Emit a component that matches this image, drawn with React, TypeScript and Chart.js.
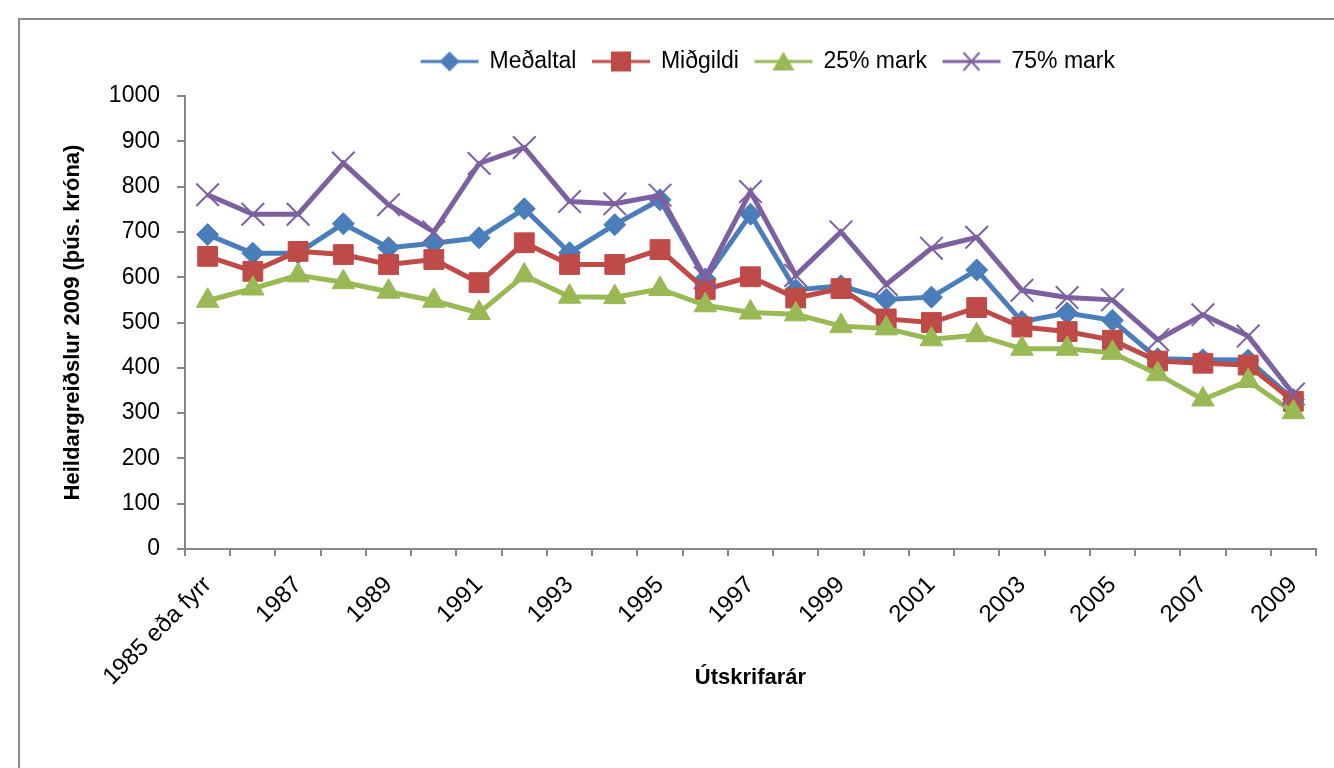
import React, { useEffect, useRef } from 'react';
import { Chart, registerables } from 'chart.js';

Chart.register(...registerables);

const categories = [
  '1985 eða fyrr', '1986', '1987', '1988', '1989', '1990', '1991', '1992', '1993',
  '1994', '1995', '1996', '1997', '1998', '1999', '2000', '2001', '2002', '2003',
  '2004', '2005', '2006', '2007', '2008', '2009',
];

const seriesNames = ['Meðaltal', 'Miðgildi', '25% mark', '75% mark'];

const medaltal = [694, 653, 653, 718, 665, 675, 687, 751, 654, 716, 771, 596, 739, 572, 581, 551, 556, 616, 502, 521, 505, 420, 418, 417, 330];
const midgildi = [646, 613, 657, 650, 628, 639, 588, 676, 628, 628, 661, 573, 601, 554, 575, 508, 500, 533, 490, 480, 461, 415, 410, 406, 326];
const mark25 = [548, 575, 604, 589, 568, 548, 521, 604, 557, 556, 574, 538, 522, 518, 492, 487, 463, 472, 442, 442, 433, 386, 330, 371, 302];
const mark75 = [782, 739, 739, 852, 760, 700, 851, 886, 767, 762, 781, 599, 789, 604, 700, 584, 664, 688, 571, 555, 550, 462, 517, 470, 342];

const yMin = 0;
const yMax = 1000;
const yStep = 100;

const yAxisTitle = 'Heildargreiðslur 2009 (þús. króna)';
const xAxisTitle = 'Útskrifarár';

const BLUE = '#4A7EBB';
const RED = '#BE4B48';
const GREEN = '#98B954';
const PURPLE = '#7D60A0';
const AXIS = '#868686';

function legendIcon(color: string, kind: string): HTMLCanvasElement {
  const c = document.createElement('canvas');
  c.width = 60;
  c.height = 24;
  const ctx = c.getContext('2d')!;
  ctx.strokeStyle = color;
  ctx.fillStyle = color;
  ctx.lineWidth = 3;
  ctx.beginPath();
  ctx.moveTo(1, 12);
  ctx.lineTo(59, 12);
  ctx.stroke();
  const cx = 30;
  const cy = 12;
  ctx.beginPath();
  if (kind === 'diamond') {
    ctx.moveTo(cx, cy - 10);
    ctx.lineTo(cx + 10, cy);
    ctx.lineTo(cx, cy + 10);
    ctx.lineTo(cx - 10, cy);
    ctx.closePath();
    ctx.fill();
  } else if (kind === 'square') {
    ctx.rect(cx - 10, cy - 10, 20, 20);
    ctx.fill();
  } else if (kind === 'triangle') {
    ctx.moveTo(cx, cy - 10);
    ctx.lineTo(cx + 11, cy + 9);
    ctx.lineTo(cx - 11, cy + 9);
    ctx.closePath();
    ctx.fill();
  } else {
    ctx.lineWidth = 2;
    ctx.moveTo(cx - 8, cy - 9);
    ctx.lineTo(cx + 8, cy + 9);
    ctx.moveTo(cx + 8, cy - 9);
    ctx.lineTo(cx - 8, cy + 9);
    ctx.stroke();
  }
  return c;
}

// Places the legend row like the original (centred a little right of the canvas, near the top)
const legendPlacement = {
  id: 'legendPlacement',
  afterLayout(chart: any) {
    const l = chart.legend;
    if (!l) return;
    const dx = 748 - (l.left + l.right) / 2;
    l.left += dx;
    l.right += dx;
    const dy = 14 - l.top;
    l.top += dy;
    l.bottom += dy;
  },
};

export default function App() {
  const ref = useRef<HTMLCanvasElement>(null);

  useEffect(() => {
    if (!ref.current) return;
    Chart.defaults.font.family = '"Liberation Sans", Arial, sans-serif';
    const icons = [
      legendIcon(BLUE, 'diamond'),
      legendIcon(RED, 'square'),
      legendIcon(GREEN, 'triangle'),
      legendIcon(PURPLE, 'cross'),
    ];
    const chart = new Chart(ref.current, {
      type: 'line',
      data: {
        labels: categories,
        datasets: [
          {
            label: seriesNames[0], data: medaltal, borderColor: BLUE, backgroundColor: BLUE,
            pointBackgroundColor: BLUE, pointBorderColor: BLUE, borderWidth: 5,
            pointStyle: 'rectRot', pointRadius: 11, pointBorderWidth: 1, order: 4,
          },
          {
            label: seriesNames[1], data: midgildi, borderColor: RED, backgroundColor: RED,
            pointBackgroundColor: RED, pointBorderColor: RED, borderWidth: 5,
            pointStyle: 'rect', pointRadius: 14, pointBorderWidth: 1, order: 3,
          },
          {
            label: seriesNames[2], data: mark25, borderColor: GREEN, backgroundColor: GREEN,
            pointBackgroundColor: GREEN, pointBorderColor: GREEN, borderWidth: 5,
            pointStyle: 'triangle', pointRadius: 13, pointBorderWidth: 1, order: 2,
          },
          {
            label: seriesNames[3], data: mark75, borderColor: PURPLE, backgroundColor: PURPLE,
            pointBackgroundColor: PURPLE, pointBorderColor: PURPLE, borderWidth: 5,
            pointStyle: 'crossRot', pointRadius: 16, pointBorderWidth: 2, order: 1,
          },
        ],
      },
      options: {
        responsive: false,
        animation: false,
        devicePixelRatio: 1,
        layout: { padding: { left: 25, right: 17, top: 2, bottom: 60 } },
        plugins: {
          tooltip: { enabled: false },
          legend: {
            display: true,
            position: 'top',
            labels: {
              usePointStyle: true,
              pointStyleWidth: 57,
              padding: 16,
              color: '#000',
              font: { size: 23 },
              generateLabels: (ch: any) =>
                ch.data.datasets.map((ds: any, i: number) => ({
                  text: ds.label,
                  pointStyle: icons[i],
                  datasetIndex: i,
                  fillStyle: 'transparent',
                  strokeStyle: 'transparent',
                  lineWidth: 0,
                  hidden: false,
                  fontColor: '#000',
                })),
            },
          },
        },
        scales: {
          x: {
            type: 'category',
            offset: true,
            grid: {
              display: true, offset: true, drawOnChartArea: false, drawTicks: true,
              tickLength: 7, color: AXIS, lineWidth: 2,
            },
            border: { display: true, color: AXIS, width: 2 },
            ticks: {
              autoSkip: false, minRotation: 45, maxRotation: 45, padding: 15,
              color: '#000', font: { size: 24 },
              callback: (_v: any, i: number) => (i % 2 === 0 ? categories[i] : ''),
            },
            title: {
              display: true, text: xAxisTitle, color: '#000',
              font: { size: 22, weight: 'bold' }, padding: { top: 0, bottom: 17 },
            },
            afterFit: (s: any) => { s.height = 159; },
          },
          y: {
            min: yMin,
            max: yMax,
            grid: {
              display: true, drawOnChartArea: false, drawTicks: true,
              tickLength: 8, color: AXIS, lineWidth: 2,
            },
            border: { display: true, color: AXIS, width: 2 },
            ticks: {
              stepSize: yStep, padding: 17, color: '#000', font: { size: 23 },
              callback: (v: any) => String(v),
            },
            title: {
              display: true, text: yAxisTitle, color: '#000',
              font: { size: 22, weight: 'bold' }, padding: { top: 15, bottom: 0 },
            },
            afterFit: (s: any) => { s.width = 140; s.paddingTop = 76; },
          },
        },
      },
      plugins: [legendPlacement],
    } as any);
    return () => chart.destroy();
  }, []);

  return (
    <div
      style={{
        position: 'fixed', left: 18, top: 18, width: 1400, height: 800,
        borderLeft: '2px solid #8a8a8a', borderTop: '2px solid #8a8a8a', background: '#fff',
      }}
    >
      <canvas ref={ref} width={1314} height={748} style={{ display: 'block', width: 1314, height: 748 }} />
    </div>
  );
}
